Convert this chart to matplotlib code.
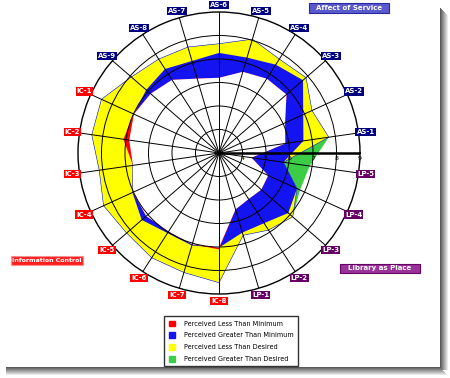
import matplotlib.pyplot as plt
import numpy as np
from matplotlib.patches import Patch, Rectangle

# LibQUAL style gap chart, scale 3..9
dims = ['AS-1', 'AS-2', 'AS-3', 'AS-4', 'AS-5', 'AS-6', 'AS-7', 'AS-8', 'AS-9',
        'IC-1', 'IC-2', 'IC-3', 'IC-4', 'IC-5', 'IC-6', 'IC-7', 'IC-8',
        'LP-1', 'LP-2', 'LP-3', 'LP-4', 'LP-5']
minimum = [5.85, 6.09, 6.80, 6.76, 6.60, 6.20, 6.30, 6.70, 6.85,
           7.00, 7.11, 6.70, 7.02, 7.10, 6.97, 7.05, 7.10,
           5.50, 5.33, 5.38, 5.30, 4.40]
perceived = [6.63, 6.94, 7.73, 7.47, 7.23, 7.26, 7.08, 7.25, 7.10,
             6.98, 6.86, 6.72, 7.05, 7.35, 7.05, 7.10, 7.03,
             6.53, 6.55, 6.90, 6.79, 6.90]
desired = [7.72, 7.35, 7.90, 7.75, 8.05, 7.65, 7.70, 7.75, 7.94,
           8.50, 8.47, 8.15, 8.40, 8.20, 8.30, 8.30, 8.52,
           6.65, 6.90, 7.15, 6.65, 5.77]
scale_ticks = [4, 5, 6, 7, 8, 9]

legend_labels = ['Perceived Less Than Minimum', 'Perceived Greater Than Minimum',
                 'Perceived Less Than Desired', 'Perceived Greater Than Desired']
red, blue, yellow, green = '#ff0000', '#1414f0', '#ffff00', '#3ccc46'

M = np.array(minimum)
P = np.array(perceived)
D = np.array(desired)
n = len(dims)
theta = np.deg2rad(180 / n + np.arange(n) * 360 / n)


def closed(a):
    return np.append(a, a[0])


th = closed(theta)

fig = plt.figure(figsize=(4.5, 3.78), dpi=100)
ax = fig.add_axes([78 / 450, 84 / 378, 282 / 450, 282 / 378], projection='polar')
ax.set_ylim(3, 9)

# layered polygons give the gap colours
ax.fill(th, closed(np.maximum(P, D)), color=green, lw=0, zorder=1)
ax.fill(th, closed(D), facecolor=yellow, edgecolor=blue, lw=0.4, zorder=1.1)
ax.fill(th, closed(np.minimum(P, D)), color=blue, lw=0, zorder=1.2)
ax.fill(th, closed(M), color=red, lw=0, zorder=1.3)
ax.fill(th, closed(np.minimum(P, M)), color='white', lw=0, zorder=1.4)

ax.set_axisbelow(False)
ax.set_rgrids(scale_ticks[:-1], labels=[])
ax.set_thetagrids(np.rad2deg(theta), labels=[])
ax.grid(color='black', lw=0.7, ls='-')
ax.spines['polar'].set_linewidth(1.0)
ax.plot([0, 0], [3, 9], color='black', lw=1.8, zorder=3)
for t in scale_ticks:
    ax.annotate(str(t), (0, t), xytext=(0, -2.5), textcoords='offset points',
                ha='center', va='top', fontsize=4.5, zorder=4)

box_colors = {'AS': '#000080', 'IC': '#ff0000', 'LP': '#660066'}
for t, lab in zip(theta, dims):
    ax.text(t, 9.3, lab, ha='center', va='center', fontsize=5, color='white',
            fontweight='bold',
            bbox=dict(boxstyle='square,pad=0.15', fc=box_colors[lab[:2]], ec='none'),
            clip_on=False)

# group headers
groups = [('Affect of Service', 349, 8, 80, '#5a5acd', '#2828a0'),
          ('Information Control', 47, 260, 72, '#ff2020', '#ff9090'),
          ('Library as Place', 380, 268, 80, '#993399', '#660066')]
for text, cx, cy, w, fc, ec in groups:
    fig.add_artist(Rectangle(((cx - w / 2) / 450, 1 - (cy + 4.5) / 378), w / 450, 9 / 378,
                             transform=fig.transFigure, fc=fc, ec=ec, lw=0.8))
    fig.text(cx / 450, 1 - cy / 378, text, ha='center', va='center',
             fontsize=4.5 if len(text) > 17 else 5, color='white', fontweight='bold')

handles = [Patch(color=c) for c in (red, blue, yellow, green)]
fig.legend(handles, legend_labels, loc='upper center', bbox_to_anchor=(231 / 450, 1 - 316 / 378),
           fontsize=4.7, frameon=True, fancybox=False, edgecolor='black',
           handlelength=1.0, handleheight=1.0, handletextpad=1.3, labelspacing=0.85,
           borderpad=0.7, borderaxespad=0)

# drop shadow on the right and bottom
for i in range(8):
    g = str(0.35 + i * 0.08)
    fig.add_artist(Rectangle(((440 + i) / 450, 8 / 378), 1 / 450, (362 - i) / 378,
                             transform=fig.transFigure, fc=g, ec='none'))
    fig.add_artist(Rectangle((6 / 450, (10 - i) / 378), (434 + i) / 450, 1 / 378,
                             transform=fig.transFigure, fc=g, ec='none'))

fig.savefig('out.png', dpi=100, facecolor='white')
